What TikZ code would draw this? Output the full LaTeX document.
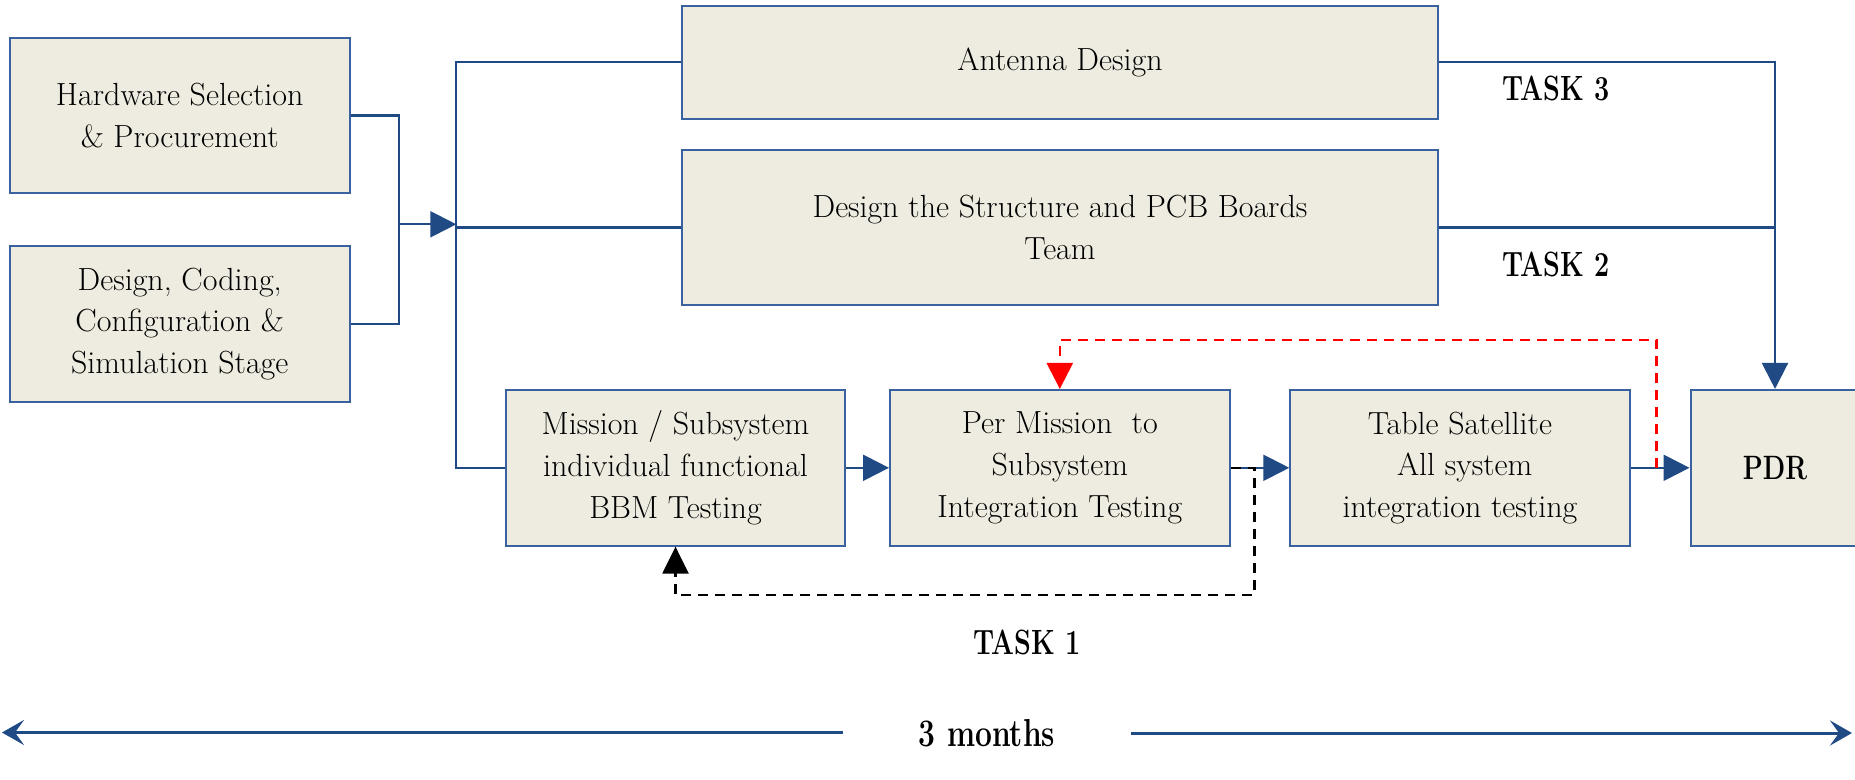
\documentclass[tikz,border=0pt]{standalone}
\usepackage{graphicx}
\usetikzlibrary{arrows.meta}
\definecolor{boxfill}{HTML}{EEECE1}
\definecolor{boxline}{HTML}{3A62A0}
\definecolor{arrowblue}{HTML}{1F4A84}
\newcommand{\tallbold}[1]{\scalebox{1}[1.3]{#1}}
\tikzset{
  box/.style={draw=boxline, line width=2pt, fill=boxfill, align=center, inner sep=0pt,
    font=\fontsize{32}{41.7}\selectfont},
  conn/.style={draw=arrowblue, line width=2.2pt},
  arr/.style={conn, -{Triangle[length=26pt,width=26pt]}},
  blackdash/.style={draw=black, line width=2.5pt, dash pattern=on 10pt off 7pt,
    -{Triangle[length=27pt,width=26pt]}},
  reddash/.style={draw=red, line width=2.5pt, dash pattern=on 10pt off 7pt,
    -{Triangle[length=26pt,width=26pt]}},
  tasklbl/.style={font=\fontsize{27}{30}\selectfont\bfseries, anchor=base, inner sep=0pt},
  monthlbl/.style={font=\fontsize{30}{34}\selectfont\bfseries, anchor=base, inner sep=0pt},
  span/.style={draw=arrowblue, line width=3pt, -{Stealth[length=22pt,width=25pt,inset=9pt]}}
}
\begin{document}
\begin{tikzpicture}[x=1pt,y=-1pt]
\useasboundingbox (0,0) rectangle (1855,779);
% boxes
\node[box, minimum width=339.8pt, minimum height=155.6pt] (hw) at (179.7,115.5) {Hardware Selection\\ \& Procurement};
\node[box, minimum width=339.8pt, minimum height=155.6pt] (dcs) at (179.7,323.8) {Design, Coding,\\ Configuration \&\\ Simulation Stage};
\node[box, minimum width=755.5pt, minimum height=113.3pt] (ant) at (1060,62.3) {Antenna Design};
\node[box, minimum width=755.5pt, minimum height=155pt] (pcb) at (1060,227.5) {Design the Structure and PCB Boards\\ Team};
\node[box, minimum width=339pt, minimum height=155.7pt] (mis) at (675.5,467.8) {Mission / Subsystem\\ individual functional\\ BBM Testing};
\node[box, minimum width=339.6pt, minimum height=155.7pt] (per) at (1059.8,467.8) {Per Mission\ \ to\\ Subsystem\\ Integration Testing};
\node[box, minimum width=339.2pt, minimum height=155.7pt] (tab) at (1459.9,467.8) {Table Satellite\\ \hspace*{0.3em}All system\\ integration testing};
\node[box, minimum width=169pt, minimum height=155.7pt, font=\fontsize{26}{30}\selectfont\bfseries] (pdr) at (1775,467.8) {\tallbold{PDR}};
% junction coordinates
\coordinate (j) at (398.7,224.3);
\coordinate (bt) at (456.3,62.3);
\coordinate (bm) at (456.3,224.3);
\coordinate (bb) at (456.3,467.8);
% connectors
\draw[conn] (hw.east) -| (j) |- (dcs.east);
\draw[arr] (j) -- (bm);
\draw[conn] (ant.west) -- (bt) -- (bb) -- (mis.west);
\draw[conn] (pcb.west) -- (pcb.west -| bt);
\draw[arr] (ant.east) -| (pdr.north);
\draw[conn] (pcb.east) -- (pcb.east -| pdr.north);
\draw[arr] (mis.east) -- (per.west);
\draw[arr] (per.east) -- (tab.west);
\draw[arr] (tab.east) -- (pdr.west);
% feedback loops
\coordinate (k1) at (1254.3,595);
\draw[blackdash] (per.east) -| (k1) -| (mis.south);
\coordinate (r0) at (1656.7,467.8);
\coordinate (r1) at (1656.7,340);
\draw[reddash] (r0) -- (r1) -| (per.north);
% labels
\node[tasklbl] (t3) at (1556,100) {\tallbold{TASK 3}};
\node[tasklbl] (t2) at (1556,276) {\tallbold{TASK 2}};
\node[tasklbl] (t1) at (1027,654) {\tallbold{TASK 1}};
\node[monthlbl] (m) at (987,746) {\tallbold{3 months}};
% time span
\coordinate (ml1) at (843,732.5);
\coordinate (ml0) at (2,732.5);
\coordinate (mr1) at (1131,733);
\coordinate (mr0) at (1852,733);
\draw[span] (ml1) -- (ml0);
\draw[span] (mr1) -- (mr0);
\end{tikzpicture}
\end{document}
